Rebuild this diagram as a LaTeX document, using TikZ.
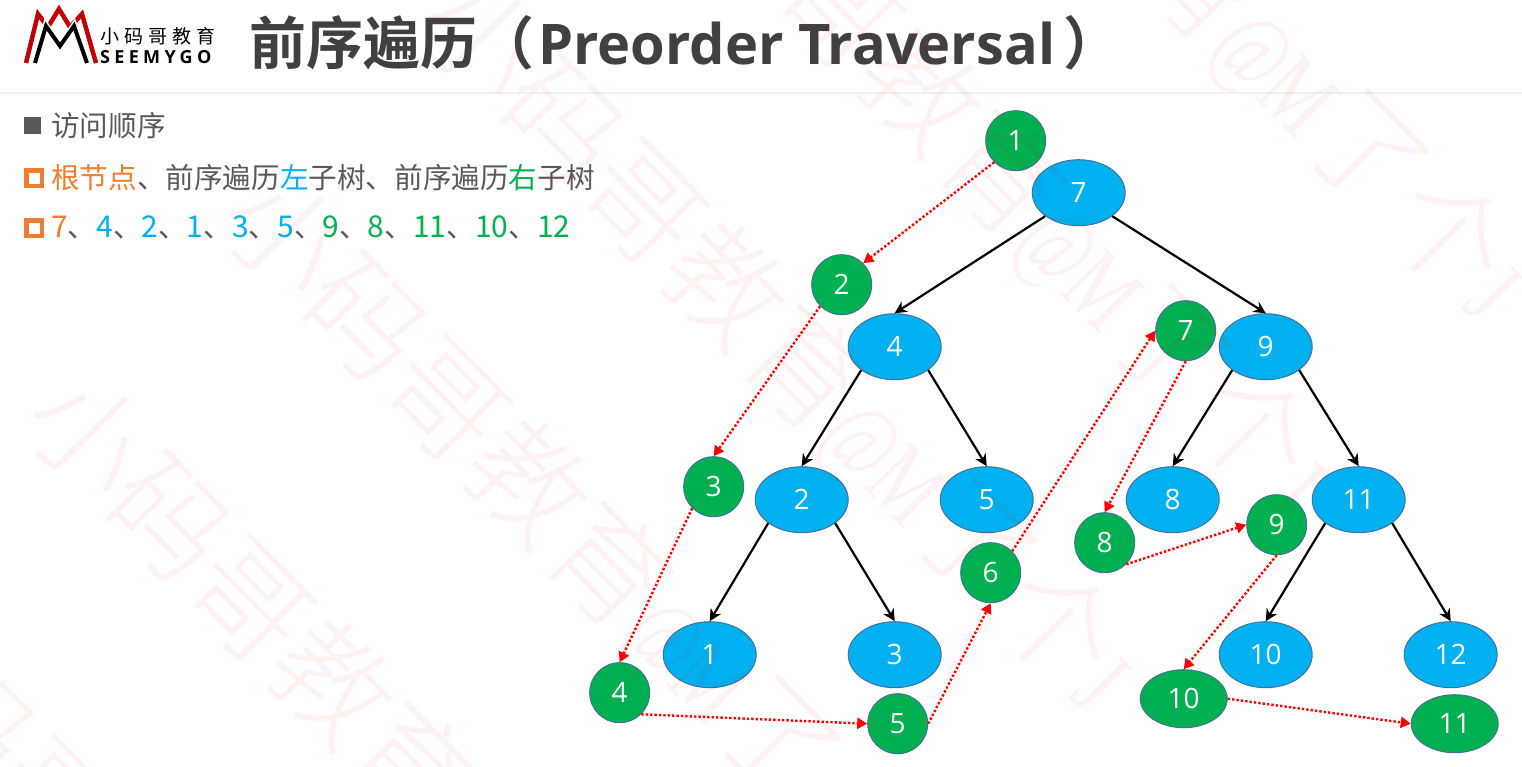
\documentclass[tikz,border=0pt]{standalone}
\usepackage{graphicx}
\usepackage{fontspec}
\setmainfont{Open Sans}
\newfontfamily\cjk{Noto Sans CJK SC}
\newfontfamily\cjkbold{Noto Sans CJK SC Bold}
\newfontfamily\cjklight{Noto Sans CJK SC Light}
\newfontfamily\wmlatin{Liberation Serif}
\usetikzlibrary{shapes.geometric,arrows.meta}
\definecolor{nodeblue}{HTML}{00B0F0}
\definecolor{nodegreen}{HTML}{00B050}
\definecolor{nodeedge}{HTML}{41719C}
\definecolor{bodygray}{HTML}{595959}
\definecolor{titlegray}{HTML}{404040}
\definecolor{bulletorange}{HTML}{ED7D31}
\newcommand{\seqnum}[2]{\textcolor{#1}{\fontsize{30}{32}\selectfont #2}}
\newcommand{\wmword}[1]{\scalebox{0.7}[1]{\wmlatin\fontsize{100}{100}\selectfont #1}}
\tikzset{
    treenode/.style={ellipse,draw=nodeedge,fill=nodeblue,text=white,line width=1pt,
        minimum width=93pt,minimum height=66pt,inner sep=0pt,font=\fontsize{28}{30}\selectfont},
    visit/.style={circle,draw=nodeedge,fill=nodegreen,text=white,line width=1pt,
        minimum size=60pt,inner sep=0pt,font=\fontsize{28}{30}\selectfont},
    visitwide/.style={visit,ellipse,minimum width=87pt,minimum height=58pt},
    child/.style={draw=black,line width=2.2pt,-{Stealth[length=12pt,width=12pt]}},
    order/.style={draw=red,line width=2.4pt,dash pattern=on 2.4pt off 2pt,-{Triangle[length=10pt,width=11pt,fill=red]}},
    rowtext/.style={anchor=west,inner sep=0pt,text=bodygray,font=\cjk\fontsize{28.6}{32}\selectfont},
    wmark/.style={anchor=west,inner sep=0pt,text=red,text opacity=0.05,rotate=-45.5,font=\cjklight\fontsize{116}{120}\selectfont}
}
\begin{document}
\begin{tikzpicture}[x=1pt,y=-1pt]
    \useasboundingbox (0,0) rectangle (1522,766);

    % header
    \draw[color=black!5,line width=1.5pt] (0,93) -- (1522,93);
    \draw[color=red!75!black,line width=4.5pt,line join=miter] (26,63) -- (38,14) -- (48,27) -- (59,9) -- (70,27) -- (82,14) -- (96,63);
    \draw[color=white,line width=7pt] (35,66) -- (46,26) -- (60,46) -- (74,26) -- (87,66);
    \draw[color=black,line width=4pt] (35,63) -- (46,26) -- (60,46) -- (74,26) -- (87,63);
    \node[anchor=west,inner sep=0pt,text=black] (brand) at (100,36) {\cjk\fontsize{19}{20}\selectfont 小\kern5pt 码\kern5pt 哥\kern5pt 教\kern5pt 育};
    \node[anchor=west,inner sep=0pt,text=black] (brandlatin) at (100,57.5) {\fontsize{18}{20}\selectfont\bfseries\addfontfeature{LetterSpace=24}SEEMYGO};
    \node[anchor=west,inner sep=0pt,text=titlegray] (title) at (249,43)
        {{\cjkbold\fontsize{57}{60}\selectfont 前序遍历（}\kern4pt{\fontsize{56}{60}\selectfont\bfseries Preorder Traversal}\kern8pt{\cjkbold\fontsize{57}{60}\selectfont ）}};

    % text rows
    \fill[color=bodygray] (24,117) rectangle (41,134);
    \draw[color=bulletorange,line width=4.5pt] (26.5,170.5) rectangle (42,186);
    \draw[color=bulletorange,line width=4.5pt] (26.5,220.5) rectangle (42,236);
    \node[rowtext] (head) at (51,126) {访问顺序};
    \node[rowtext] (rule) at (51,178) {\textcolor{bulletorange}{根节点}、前序遍历\textcolor{nodeblue}{左}子树、前序遍历\textcolor{nodegreen}{右}子树};
    \node[rowtext] (seq) at (51,227) {\seqnum{bulletorange}{7}、\seqnum{nodeblue}{4}、\seqnum{nodeblue}{2}、\seqnum{nodeblue}{1}、\seqnum{nodeblue}{3}、\seqnum{nodeblue}{5}、\seqnum{nodegreen}{9}、\seqnum{nodegreen}{8}、\seqnum{nodegreen}{11}、\seqnum{nodegreen}{10}、\seqnum{nodegreen}{12}};

    % tree
    \foreach \n/\x/\y in {7/1078.7/192.7,4/894.7/346.7,9/1265.7/346.7,2/801.7/499.7,5/986.7/499.7,8/1172.7/499.7,11/1358.7/499.7,1/709.7/654.7,3/894.7/654.7,10/1265.7/654.7,12/1450.7/654.7}
        \node[treenode] (t\n) at (\x,\y) {\n};
    \foreach \a/\b in {7/4,4/2,2/1,9/8,11/10}
        \draw[child] (t\a.-145) -- (t\b.north);
    \foreach \a/\b in {7/9,4/5,2/3,9/11,11/12}
        \draw[child] (t\a.-35) -- (t\b.north);

    % visiting order
    \foreach \n/\x/\y in {1/1015.7/140.7,2/841.7/284.7,3/713.7/486.7,4/619.7/692.7,5/897.7/723.7,6/990.7/572.7,7/1185.7/330.7,8/1104.7/542.7,9/1276.7/524.7}
        \node[visit] (v\n) at (\x,\y) {\n};
    \node[visitwide] (v10) at (1183.7,698.7) {10};
    \node[visitwide] (v11) at (1454.7,723.7) {11};
    \draw[order] (v1.-135) -- (v2.45);
    \draw[order] (v2.-135) -- (v3.north);
    \draw[order] (v3.-135) -- (v4.north);
    \draw[order] (v4.-45) -- (v5.west);
    \draw[order] (v5.east) -- (v6.south);
    \draw[order] (v6.45) -- (v7.west);
    \draw[order] (v7.south) -- (v8.north);
    \draw[order] (v8.-45) -- (v9.west);
    \draw[order] (v9.south) -- (v10.north);
    \draw[order] (v10.east) -- (v11.west);

    % watermark
    \foreach \x/\y in {-151/596,45/396,241/196,438/-1,634/-196,830/-391}
        \node[wmark] at (\x,\y) {小码哥教育\wmword{@M}了个\wmword{J}};
\end{tikzpicture}
\end{document}
